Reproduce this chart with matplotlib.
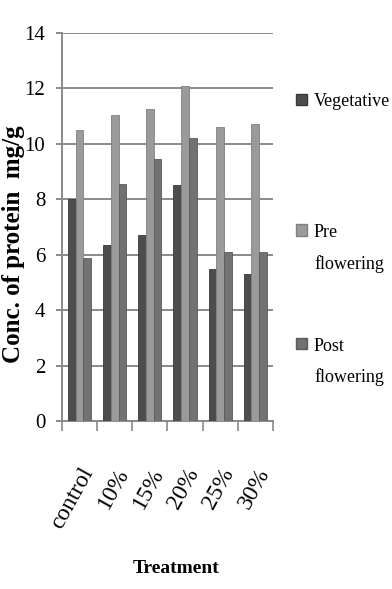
import numpy as np
import matplotlib.pyplot as plt
from matplotlib.patches import Patch, Rectangle
from matplotlib.legend_handler import HandlerPatch
from matplotlib.transforms import ScaledTranslation

# data
treatments = ['control', '10%', '15%', '20%', '25%', '30%']
vegetative = [8.0, 6.35, 6.7, 8.5, 5.5, 5.3]
pre_flowering = [10.5, 11.05, 11.25, 12.1, 10.6, 10.7]
post_flowering = [5.9, 8.55, 9.45, 10.2, 6.1, 6.1]
series_names = ['Vegetative', 'Pre\nflowering', 'Post\nflowering']

plt.rcParams['font.family'] = ['Liberation Serif', 'DejaVu Serif']

colors = ['#4d4d4d', '#9a9a9a', '#727272']
edges = ['#3a3a3a', '#808080', '#5a5a5a']
grid_col = '#8a8a8a'

fig = plt.figure(figsize=(3.92, 5.89), dpi=100)
ax = fig.add_axes([0.158, 0.285, 0.538, 0.659])

x = np.arange(len(treatments))
w = 0.22
for k, vals in enumerate([vegetative, pre_flowering, post_flowering]):
    ax.bar(x + (k - 1) * w, vals, width=w, color=colors[k],
           edgecolor=edges[k], linewidth=0.6, zorder=3)

ax.set_xlim(-0.5, len(treatments) - 0.5)
ax.set_ylim(0, 14)
ax.set_yticks(np.arange(0, 15, 2))
ax.yaxis.grid(True, color=grid_col, linewidth=1.4, zorder=0)

ax.set_xticks(x)
ax.set_xticklabels(treatments, rotation=61, ha='right',
                   rotation_mode='anchor', fontsize=17)
# nudge the slanted labels a little to the left
for lbl in ax.get_xticklabels():
    lbl.set_transform(lbl.get_transform()
                      + ScaledTranslation(-0.06, -0.02, fig.dpi_scale_trans))
ax.set_xticks(np.arange(-0.5, len(treatments), 1), minor=True)
ax.tick_params(axis='x', which='major', length=0, pad=31)
ax.tick_params(axis='x', which='minor', length=7, color=grid_col, width=1.2)
ax.tick_params(axis='y', length=4, color=grid_col, width=1.4, pad=8,
               labelsize=15)

for s in ['top', 'right']:
    ax.spines[s].set_visible(False)
for s in ['left', 'bottom']:
    ax.spines[s].set_color(grid_col)
    ax.spines[s].set_linewidth(1.4)

fig.text(0.034, 0.585, 'Conc. of protein  mg/g', rotation=90,
         ha='center', va='center', fontsize=18, fontweight='bold')
fig.text(0.45, 0.034, 'Treatment', ha='center', va='center',
         fontsize=14, fontweight='bold')


# legend square sits next to the first line of a two-line label
def top_square(legend, orig_handle, xdescent, ydescent, width, height, fontsize):
    lines = orig_handle.get_label().count('\n')
    shift = lines * 1.02 * fontsize
    return Rectangle((-xdescent, -ydescent + shift), width, height)


handles = [Patch(facecolor=c, edgecolor=e, label=n)
           for c, e, n in zip(colors, edges, series_names)]
hmap = {Patch: HandlerPatch(patch_func=top_square)}
leg_kw = dict(loc='upper left', frameon=False, fontsize=13,
              handlelength=0.6, handleheight=0.6, handletextpad=0.4,
              borderpad=0, borderaxespad=0, handler_map=hmap)

leg1 = fig.legend(handles=handles[:1], bbox_to_anchor=(0.755, 0.842), **leg_kw)
leg2 = fig.legend(handles=handles[1:], bbox_to_anchor=(0.755, 0.620),
                  labelspacing=3.6, **leg_kw)
for t in leg2.get_texts():
    t.set_linespacing(2.0)

fig.savefig('out.png', dpi=100)
